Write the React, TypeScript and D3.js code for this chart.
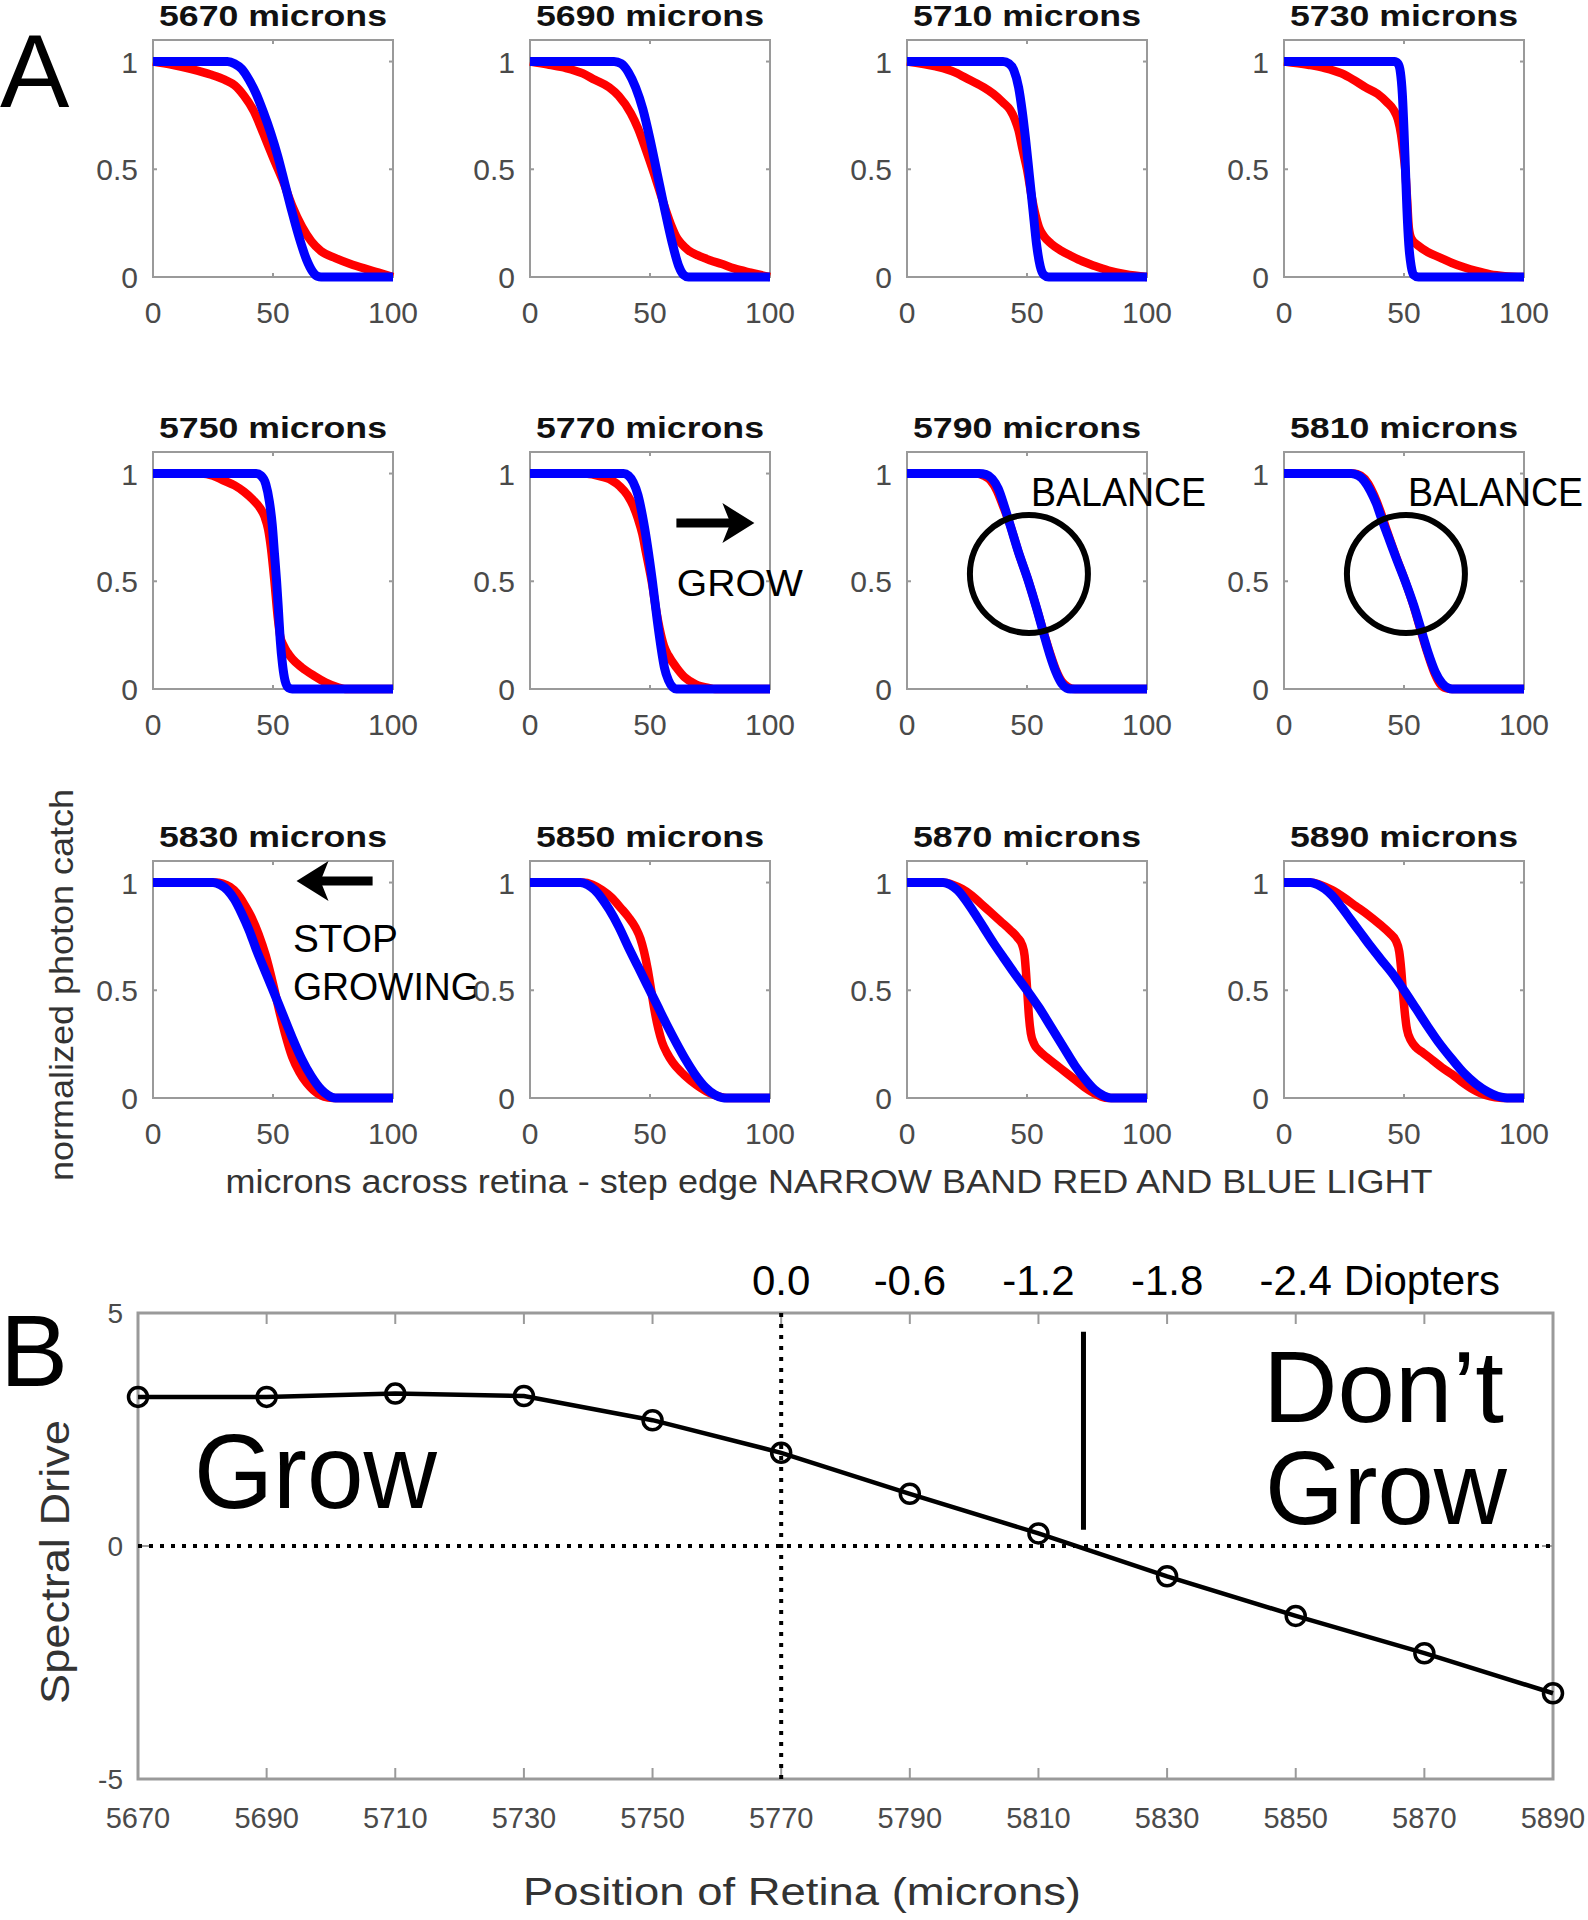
import React from 'react';
import * as d3 from 'd3';

type Pt = [number, number];

// ---------- Panel A data (x: microns across retina, y: normalized photon catch) ----------
const PANEL_TITLES = [
  '5670 microns', '5690 microns', '5710 microns', '5730 microns',
  '5750 microns', '5770 microns', '5790 microns', '5810 microns',
  '5830 microns', '5850 microns', '5870 microns', '5890 microns',
];

const RED_5670: Pt[] = [[0,1],[8,0.985],[16,0.965],[24,0.94],[30,0.915],[34,0.89],[38,0.84],[42,0.77],[46,0.665],[50,0.555],[54,0.45],[58,0.33],[62,0.235],[66,0.165],[70,0.12],[76,0.088],[82,0.062],[88,0.04],[94,0.02],[100,0]];
const BLUE_5670: Pt[] = [[0,1],[31,1],[34,0.99],[37,0.965],[40,0.915],[43,0.85],[46,0.765],[49,0.67],[52,0.56],[55,0.43],[58,0.3],[61,0.18],[64,0.08],[66.5,0.025],[68.5,0.003],[70,0],[100,0]];

const RED_5690: Pt[] = [[0,1],[8,0.985],[15,0.97],[22,0.945],[27,0.915],[33,0.88],[37,0.84],[42,0.76],[45,0.69],[48,0.6],[51.7,0.48],[56,0.33],[59,0.235],[61,0.185],[63,0.155],[66,0.124],[70,0.1],[75,0.078],[80,0.06],[85,0.04],[92,0.02],[100,0]];
const BLUE_5690: Pt[] = [[0,1],[35,1],[38,0.99],[41,0.95],[44,0.88],[47,0.78],[50,0.64],[53,0.48],[56,0.32],[59,0.17],[62,0.05],[64,0.01],[66,0],[100,0]];

const RED_5710: Pt[] = [[0,1],[12,0.977],[20,0.95],[26,0.915],[32,0.88],[36,0.85],[40,0.81],[43,0.775],[45,0.73],[46.5,0.68],[48,0.6],[50,0.5],[52,0.37],[53.5,0.29],[55,0.23],[57,0.19],[60,0.155],[64,0.124],[68,0.1],[72,0.078],[78,0.052],[84,0.03],[91,0.013],[100,0]];
const BLUE_5710: Pt[] = [[0,1],[40,1],[42.5,0.99],[44.5,0.96],[46.5,0.88],[48,0.77],[49.5,0.63],[51,0.47],[52.5,0.31],[54,0.15],[55.5,0.05],[57,0.01],[59,0],[100,0]];

const RED_5730: Pt[] = [[0,1],[10,0.985],[17,0.97],[24,0.945],[29,0.915],[34,0.88],[39,0.85],[43,0.81],[45.7,0.775],[47.5,0.73],[48.8,0.66],[49.7,0.58],[50.5,0.5],[51.3,0.36],[52,0.23],[53,0.18],[56,0.145],[60,0.115],[65,0.09],[70,0.065],[75,0.045],[80,0.028],[86,0.012],[92,0.004],[100,0]];
const BLUE_5730: Pt[] = [[0,1],[46,1],[47.5,0.99],[48.5,0.95],[49.3,0.85],[50,0.68],[50.6,0.5],[51.2,0.32],[52,0.15],[53,0.05],[54,0.01],[56,0],[100,0]];

const RED_5750: Pt[] = [[0,1],[20,1],[25,0.99],[29,0.97],[34,0.945],[38,0.915],[41.5,0.88],[44.6,0.84],[46.5,0.8],[48,0.74],[49.2,0.65],[50.6,0.5],[52,0.33],[53,0.245],[54.5,0.2],[56,0.17],[58,0.14],[62,0.1],[67,0.062],[72,0.03],[77,0.008],[80,0],[100,0]];
const BLUE_5750: Pt[] = [[0,1],[43,1],[45,0.99],[47,0.95],[48.5,0.87],[49.7,0.76],[50.6,0.63],[51.5,0.5],[52.3,0.36],[53,0.23],[54,0.11],[55,0.04],[56.5,0.005],[58,0],[100,0]];

const RED_5770: Pt[] = [[0,1],[23,1],[28,0.99],[33.8,0.97],[37.5,0.94],[40.6,0.9],[43,0.85],[45,0.79],[46.8,0.72],[48.3,0.635],[51,0.48],[52.5,0.37],[54,0.28],[55.8,0.2],[57.7,0.155],[61,0.1],[64.5,0.054],[69,0.022],[74.7,0.004],[77,0],[100,0]];
const BLUE_5770: Pt[] = [[0,1],[39,1],[41,0.99],[43,0.96],[45,0.9],[47.4,0.77],[49,0.66],[51,0.5],[53,0.32],[54.5,0.2],[56,0.1],[57.7,0.04],[59.5,0.008],[61,0],[100,0]];

const RED_5790: Pt[] = [[0,1],[29,1],[32,0.99],[35,0.965],[37.5,0.92],[40,0.85],[43,0.76],[46.3,0.64],[50.6,0.5],[54,0.375],[57,0.26],[59.5,0.17],[62,0.09],[64.5,0.035],[67,0.01],[70,0],[100,0]];
const BLUE_5790: Pt[] = [[0,1],[30,1],[33,0.995],[35.5,0.975],[38,0.93],[40.5,0.85],[43,0.76],[46.3,0.64],[50.6,0.5],[54,0.375],[57,0.255],[59.5,0.16],[62,0.08],[64.5,0.025],[66.5,0.004],[68,0],[100,0]];

const RED_5810: Pt[] = [[0,1],[29,1],[32,0.99],[35,0.955],[37.5,0.9],[40,0.83],[43,0.73],[46.5,0.62],[50.5,0.5],[54,0.385],[57,0.27],[60,0.16],[62.5,0.08],[65,0.025],[67.5,0.004],[70,0],[100,0]];
const BLUE_5810: Pt[] = [[0,1],[28,1],[31,0.99],[33.5,0.965],[36,0.92],[38.5,0.86],[41,0.78],[44,0.69],[47,0.6],[50.5,0.5],[54,0.39],[57,0.28],[60,0.17],[63,0.08],[66,0.025],[68.5,0.004],[70,0],[100,0]];

const RED_5830: Pt[] = [[0,1],[26,1],[29,0.995],[32,0.98],[35,0.95],[38,0.9],[41,0.84],[44,0.76],[47,0.66],[50,0.53],[52.5,0.41],[55,0.3],[58,0.19],[61,0.12],[64,0.07],[67,0.035],[70,0.012],[73,0.002],[75,0],[100,0]];
const BLUE_5830: Pt[] = [[0,1],[25,1],[28,0.99],[31,0.965],[34,0.92],[37,0.855],[40,0.78],[43,0.69],[46.3,0.6],[50,0.5],[54,0.39],[58,0.28],[62,0.18],[66,0.1],[70,0.04],[73,0.012],[76,0],[100,0]];

const RED_5850: Pt[] = [[0,1],[22,1],[26,0.99],[30,0.965],[34,0.93],[38,0.88],[41,0.84],[44,0.79],[46,0.74],[47.5,0.68],[49,0.6],[50.5,0.5],[52,0.4],[53.5,0.32],[55,0.26],[57,0.21],[59.5,0.165],[63,0.12],[67,0.08],[71,0.048],[75,0.022],[79,0.006],[82,0],[100,0]];
const BLUE_5850: Pt[] = [[0,1],[21,1],[24,0.99],[27,0.965],[30,0.925],[33,0.875],[37,0.795],[41,0.7],[45,0.61],[49,0.52],[53,0.43],[57,0.34],[61,0.255],[65,0.175],[69,0.105],[73,0.05],[77,0.015],[80,0.002],[82,0],[100,0]];

const RED_5870: Pt[] = [[0,1],[15,1],[19,0.99],[23,0.97],[27,0.94],[31,0.9],[35,0.86],[39,0.82],[43,0.78],[46,0.745],[48,0.71],[49,0.66],[49.6,0.58],[50.2,0.48],[50.8,0.38],[51.6,0.3],[53,0.25],[55,0.22],[58,0.19],[62,0.155],[66,0.12],[70,0.085],[74,0.05],[78,0.022],[81,0.006],[84,0],[100,0]];
const BLUE_5870: Pt[] = [[0,1],[15,1],[18,0.99],[21,0.965],[24,0.925],[28,0.86],[32,0.79],[36,0.72],[40,0.655],[45,0.575],[50,0.5],[55,0.42],[60,0.33],[65,0.24],[70,0.15],[74,0.09],[78,0.04],[82,0.01],[85,0],[100,0]];

const RED_5890: Pt[] = [[0,1],[11,1],[15,0.99],[20,0.965],[25,0.93],[30,0.89],[35,0.85],[40,0.805],[44,0.765],[46.6,0.73],[48,0.68],[48.8,0.6],[49.5,0.5],[50.3,0.4],[51.2,0.32],[53,0.265],[55,0.235],[58,0.21],[62,0.175],[66,0.14],[70,0.11],[74,0.075],[78,0.045],[82,0.022],[86,0.008],[90,0.001],[92,0],[100,0]];
const BLUE_5890: Pt[] = [[0,1],[11,1],[14,0.99],[17,0.97],[20,0.94],[24,0.885],[28,0.825],[32,0.765],[36,0.705],[40.6,0.64],[45,0.58],[50,0.5],[55,0.415],[60,0.33],[65,0.25],[70,0.18],[75,0.115],[80,0.065],[85,0.028],[89,0.008],[92,0.001],[94,0],[100,0]];

const RED_SERIES = [RED_5670, RED_5690, RED_5710, RED_5730, RED_5750, RED_5770, RED_5790, RED_5810, RED_5830, RED_5850, RED_5870, RED_5890];
const BLUE_SERIES = [BLUE_5670, BLUE_5690, BLUE_5710, BLUE_5730, BLUE_5750, BLUE_5770, BLUE_5790, BLUE_5810, BLUE_5830, BLUE_5850, BLUE_5870, BLUE_5890];

const X_TICKS_A = [0, 50, 100];
const Y_TICKS_A = [0, 0.5, 1];

// ---------- Panel B data ----------
const POSITIONS = [5670, 5690, 5710, 5730, 5750, 5770, 5790, 5810, 5830, 5850, 5870, 5890];
const SPECTRAL_DRIVE = [3.2, 3.2, 3.27, 3.22, 2.7, 2.0, 1.12, 0.27, -0.65, -1.5, -2.3, -3.16];
const Y_TICKS_B = [-5, 0, 5];
const DIOPTER_POS = [5770, 5790, 5810, 5830, 5850];
const DIOPTER_LABELS = ['0.0', '-0.6', '-1.2', '-1.8', '-2.4'];

const FONT = '"Liberation Sans", Arial, Helvetica, sans-serif';
const TICK_GRAY = '#4a4a4a';
const BOX_GRAY = '#9a9a9a';

function Arrow({ x1, x2, y }: { x1: number; x2: number; y: number }) {
  // x1 = tail, x2 = tip
  const dir = x2 > x1 ? 1 : -1;
  const L = 32, h = 20, notch = 24;
  const head = [
    [x2, y],
    [x2 - dir * L, y - h],
    [x2 - dir * notch, y],
    [x2 - dir * L, y + h],
  ].map(p => p.join(',')).join(' ');
  return (
    <g>
      <line x1={x1} x2={x2 - dir * (notch - 2)} y1={y} y2={y} stroke="#000" strokeWidth={9} />
      <polygon points={head} fill="#000" />
    </g>
  );
}

function Panel({ idx, left, top }: { idx: number; left: number; top: number }) {
  const pw = 240, ph = 237;
  const xs = d3.scaleLinear().domain([0, 100]).range([left, left + pw]);
  const ys = d3.scaleLinear().domain([0, 1.1]).range([top + ph, top]);
  const line = d3.line<Pt>().x(d => xs(d[0])).y(d => ys(d[1])).curve(d3.curveMonotoneX);
  const tl = 4;
  return (
    <g>
      <text x={left + pw / 2} y={top - 14} textAnchor="middle" fontFamily={FONT} fontWeight="bold"
        fontSize={29} textLength={228} lengthAdjust="spacingAndGlyphs" fill="#111">{PANEL_TITLES[idx]}</text>
      <rect x={left} y={top} width={pw} height={ph} fill="none" stroke={BOX_GRAY} strokeWidth={2} />
      {X_TICKS_A.map(t => (
        <g key={'x' + t}>
          <line x1={xs(t)} x2={xs(t)} y1={top + ph} y2={top + ph - tl} stroke={BOX_GRAY} strokeWidth={2} />
          <line x1={xs(t)} x2={xs(t)} y1={top} y2={top + tl} stroke={BOX_GRAY} strokeWidth={2} />
          <text x={xs(t)} y={top + ph + 46} textAnchor="middle" fontFamily={FONT} fontSize={30} fill={TICK_GRAY}>{t}</text>
        </g>
      ))}
      {Y_TICKS_A.map(t => (
        <g key={'y' + t}>
          <line x1={left} x2={left + tl} y1={ys(t)} y2={ys(t)} stroke={BOX_GRAY} strokeWidth={2} />
          <line x1={left + pw} x2={left + pw - tl} y1={ys(t)} y2={ys(t)} stroke={BOX_GRAY} strokeWidth={2} />
          <text x={left - 15} y={ys(t) + 11} textAnchor="end" fontFamily={FONT} fontSize={30} fill={TICK_GRAY}>{t}</text>
        </g>
      ))}
      <path d={line(RED_SERIES[idx]) || ''} fill="none" stroke="#ff0000" strokeWidth={8.5} />
      <path d={line(BLUE_SERIES[idx]) || ''} fill="none" stroke="#0000ff" strokeWidth={9} />
      {idx === 5 && (
        <g>
          <Arrow x1={xs(61)} x2={xs(93.5)} y={ys(0.77)} />
          <text x={xs(61.2)} y={ys(0.43)} fontFamily={FONT} fontSize={37} textLength={126} lengthAdjust="spacingAndGlyphs" fill="#000">GROW</text>
        </g>
      )}
      {(idx === 6 || idx === 7) && (
        <g>
          <circle cx={xs(50.8)} cy={ys(0.534)} r={59} fill="none" stroke="#000" strokeWidth={6} />
          <text x={xs(51.7)} y={ys(0.85)} fontFamily={FONT} fontSize={40} textLength={175} lengthAdjust="spacingAndGlyphs" fill="#000">BALANCE</text>
        </g>
      )}
      {idx === 8 && (
        <g>
          <Arrow x1={xs(91.5)} x2={xs(59.8)} y={ys(1.007)} />
          <text x={xs(58.3)} y={ys(0.678)} fontFamily={FONT} fontSize={39} textLength={105} lengthAdjust="spacingAndGlyphs" fill="#000">STOP</text>
          <text x={xs(58.3)} y={ys(0.455)} fontFamily={FONT} fontSize={39} textLength={187} lengthAdjust="spacingAndGlyphs" fill="#000">GROWING</text>
        </g>
      )}
    </g>
  );
}

export default function App() {
  const colX = [153, 530, 907, 1284];
  const rowY = [40, 452, 861];

  // Panel B scales
  const bx = d3.scaleLinear().domain([5670, 5890]).range([138, 1553]);
  const by = d3.scaleLinear().domain([-5, 5]).range([1779, 1313]);
  const pts: Pt[] = POSITIONS.map((p, i) => [p, SPECTRAL_DRIVE[i]]);
  const bLine = d3.line<Pt>().x(d => bx(d[0])).y(d => by(d[1]));
  const [bx0, bx1] = bx.range();
  const [by0, by1] = by.range();

  return (
    <svg width={1588} height={1920} style={{ position: 'absolute', left: 0, top: 0, background: '#fff' }}
      xmlns="http://www.w3.org/2000/svg">
      <rect x={0} y={0} width={1588} height={1920} fill="#fff" />
      {/* Panel A */}
      <text x={0} y={107} fontFamily={FONT} fontSize={104} fill="#000">A</text>
      {PANEL_TITLES.map((t, i) => (
        <Panel key={t} idx={i} left={colX[i % 4]} top={rowY[Math.floor(i / 4)]} />
      ))}
      <text transform={`translate(73,985) rotate(-90)`} textAnchor="middle" fontFamily={FONT} fontSize={34}
        textLength={392} lengthAdjust="spacingAndGlyphs" fill="#333">normalized photon catch</text>
      <text x={829} y={1193} textAnchor="middle" fontFamily={FONT} fontSize={33} textLength={1207}
        lengthAdjust="spacingAndGlyphs" fill="#333">microns across retina - step edge NARROW BAND RED AND BLUE LIGHT</text>

      {/* Panel B */}
      <text x={0} y={1386} fontFamily={FONT} fontSize={102} fill="#000">B</text>
      <rect x={bx0} y={by1} width={bx1 - bx0} height={by0 - by1} fill="none" stroke={BOX_GRAY} strokeWidth={3} />
      {POSITIONS.map(p => (
        <g key={'bt' + p}>
          <line x1={bx(p)} x2={bx(p)} y1={by0} y2={by0 - 11} stroke={BOX_GRAY} strokeWidth={2} />
          <line x1={bx(p)} x2={bx(p)} y1={by1} y2={by1 + 11} stroke={BOX_GRAY} strokeWidth={2} />
          <text x={bx(p)} y={1828} textAnchor="middle" fontFamily={FONT} fontSize={29} fill={TICK_GRAY}>{p}</text>
        </g>
      ))}
      {Y_TICKS_B.map(t => (
        <g key={'by' + t}>
          <line x1={bx0} x2={bx0 + 11} y1={by(t)} y2={by(t)} stroke={BOX_GRAY} strokeWidth={2} />
          <line x1={bx1} x2={bx1 - 11} y1={by(t)} y2={by(t)} stroke={BOX_GRAY} strokeWidth={2} />
          <text x={123} y={by(t) + 10} textAnchor="end" fontFamily={FONT} fontSize={28} fill={TICK_GRAY}>{t}</text>
        </g>
      ))}
      {/* dotted reference lines */}
      <line x1={bx0} x2={bx1} y1={by(0)} y2={by(0)} stroke="#000" strokeWidth={4} strokeDasharray="4 7" />
      <line x1={bx(5770)} x2={bx(5770)} y1={by1} y2={by0} stroke="#000" strokeWidth={4} strokeDasharray="4 7" />
      {/* diopter labels */}
      {DIOPTER_POS.map((p, i) => (
        <text key={'d' + p} x={bx(p)} y={1295} textAnchor="middle" fontFamily={FONT} fontSize={42} fill="#000">{DIOPTER_LABELS[i]}</text>
      ))}
      <text x={bx(5850) + 48} y={1295} fontFamily={FONT} fontSize={42} fill="#000">Diopters</text>
      {/* balance marker */}
      <line x1={bx(5817)} x2={bx(5817)} y1={by(4.6)} y2={by(0.35)} stroke="#000" strokeWidth={5} />
      {/* data */}
      <path d={bLine(pts) || ''} fill="none" stroke="#000" strokeWidth={4.5} />
      {pts.map(d => (
        <circle key={'c' + d[0]} cx={bx(d[0])} cy={by(d[1])} r={9.5} fill="none" stroke="#000" strokeWidth={3.5} />
      ))}
      <text x={194} y={1508} fontFamily={FONT} fontSize={106} textLength={243} lengthAdjust="spacingAndGlyphs" fill="#000">Grow</text>
      <text x={1263} y={1422} fontFamily={FONT} fontSize={102} textLength={241} lengthAdjust="spacingAndGlyphs" fill="#000">Don’t</text>
      <text x={1265} y={1524} fontFamily={FONT} fontSize={104} textLength={242} lengthAdjust="spacingAndGlyphs" fill="#000">Grow</text>
      <text transform={`translate(69,1562) rotate(-90)`} textAnchor="middle" fontFamily={FONT} fontSize={40}
        textLength={284} lengthAdjust="spacingAndGlyphs" fill="#333">Spectral Drive</text>
      <text x={802} y={1905} textAnchor="middle" fontFamily={FONT} fontSize={38} textLength={558}
        lengthAdjust="spacingAndGlyphs" fill="#333">Position of Retina (microns)</text>
    </svg>
  );
}
